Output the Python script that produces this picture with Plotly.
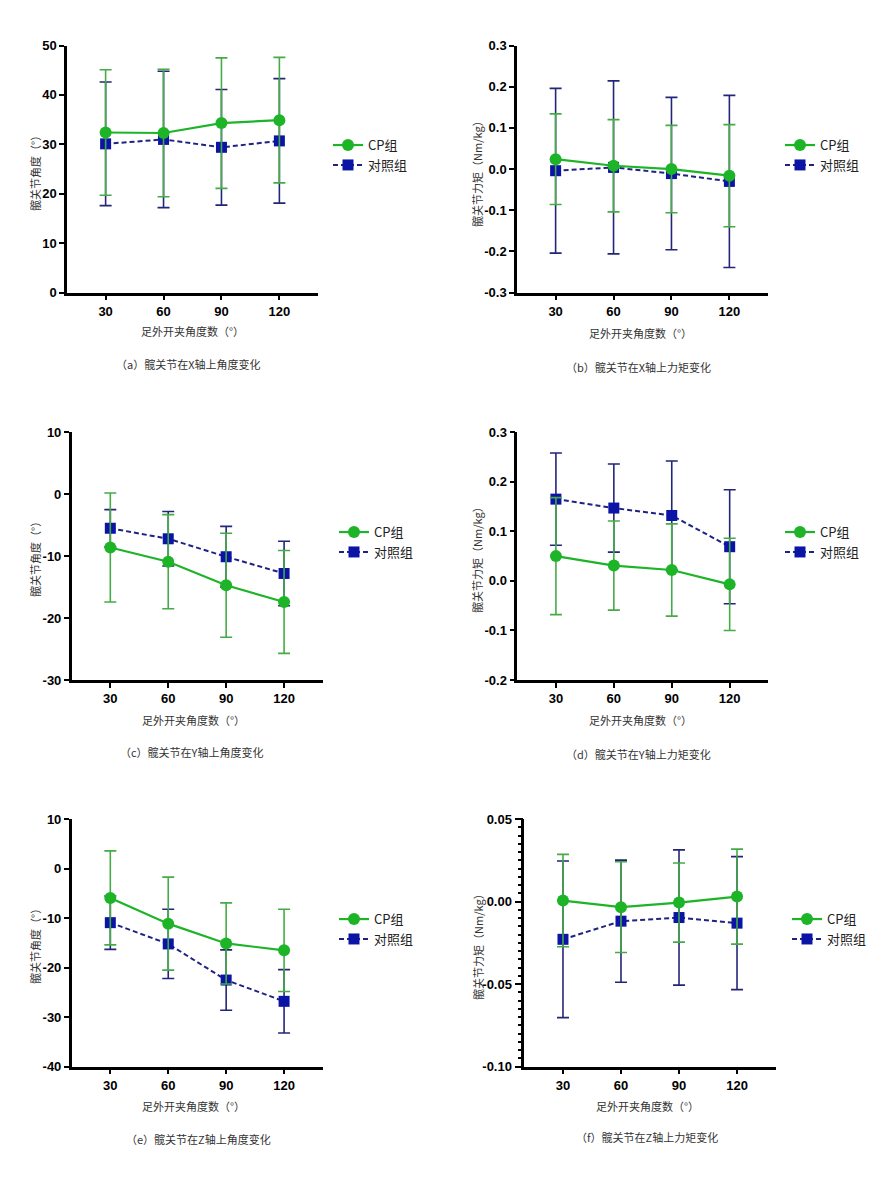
import plotly.graph_objects as go

# ---------------- data ----------------
angles = [30, 60, 90, 120]
x_ticklabels = ["30", "60", "90", "120"]
series_names = ["CP组", "对照组"]

a_cp = [32.4, 32.3, 34.3, 34.9]
a_cp_sd = [12.7, 12.9, 13.2, 12.7]
a_ct = [30.1, 31.0, 29.4, 30.7]
a_ct_sd = [12.5, 13.8, 11.7, 12.6]

b_cp = [0.024, 0.008, 0.000, -0.016]
b_cp_sd = [0.110, 0.112, 0.106, 0.124]
b_ct = [-0.004, 0.004, -0.011, -0.030]
b_ct_sd = [0.200, 0.210, 0.185, 0.209]

c_cp = [-8.6, -10.9, -14.7, -17.4]
c_cp_sd = [8.8, 7.6, 8.4, 8.3]
c_ct = [-5.5, -7.2, -10.1, -12.8]
c_ct_sd = [3.0, 4.4, 4.9, 5.2]

d_cp = [0.050, 0.031, 0.022, -0.007]
d_cp_sd = [0.118, 0.090, 0.093, 0.093]
d_ct = [0.165, 0.147, 0.132, 0.069]
d_ct_sd = [0.093, 0.089, 0.110, 0.115]

e_cp = [-5.9, -11.1, -15.1, -16.5]
e_cp_sd = [9.5, 9.4, 8.2, 8.3]
e_ct = [-10.9, -15.2, -22.5, -26.8]
e_ct_sd = [5.4, 7.0, 6.1, 6.4]

f_cp = [0.0007, -0.0033, -0.0005, 0.0031]
f_cp_sd = [0.028, 0.0275, 0.024, 0.0288]
f_ct = [-0.0228, -0.0118, -0.0096, -0.0130]
f_ct_sd = [0.0475, 0.037, 0.041, 0.0403]

a_yticks = [0, 10, 20, 30, 40, 50]
a_ylabels = ["0", "10", "20", "30", "40", "50"]
b_yticks = [-0.3, -0.2, -0.1, 0.0, 0.1, 0.2, 0.3]
b_ylabels = ["-0.3", "-0.2", "-0.1", "0.0", "0.1", "0.2", "0.3"]
c_yticks = [-30, -20, -10, 0, 10]
c_ylabels = ["-30", "-20", "-10", "0", "10"]
d_yticks = [-0.2, -0.1, 0.0, 0.1, 0.2, 0.3]
d_ylabels = ["-0.2", "-0.1", "0.0", "0.1", "0.2", "0.3"]
e_yticks = [-40, -30, -20, -10, 0, 10]
e_ylabels = ["-40", "-30", "-20", "-10", "0", "10"]
f_yticks = [-0.10, -0.05, 0.00, 0.05]
f_ylabels = ["-0.10", "-0.05", "0.00", "0.05"]

x_title = "足外开夹角度数（°）"
y_title_angle = "髋关节角度（°）"
y_title_moment = "髋关节力矩（Nm/kg）"
captions = ["（a）髋关节在X轴上角度变化", "（b）髋关节在X轴上力矩变化",
            "（c）髋关节在Y轴上角度变化", "（d）髋关节在Y轴上力矩变化",
            "（e）髋关节在Z轴上角度变化", "（f）髋关节在Z轴上力矩变化"]

# ---------------- layout geometry (pixels) ----------------
W, H = 892, 1179
panels = [
    dict(cp=a_cp, cpsd=a_cp_sd, ct=a_ct, ctsd=a_ct_sd, yt=a_yticks, yl=a_ylabels, yr=[0, 50],
         xd=(67, 318), yd=(39, 289.3), yti=y_title_angle, ytx=35, yty=166,
         xt=(192, 328), cap=(188, 362), leg=(328, 150), minor=None),
    dict(cp=b_cp, cpsd=b_cp_sd, ct=b_ct, ctsd=b_ct_sd, yt=b_yticks, yl=b_ylabels, yr=[-0.3, 0.3],
         xd=(517, 768), yd=(39, 289.3), yti=y_title_moment, ytx=477, yty=166,
         xt=(640, 330), cap=(638, 365), leg=(780, 150), minor=None),
    dict(cp=c_cp, cpsd=c_cp_sd, ct=c_ct, ctsd=c_ct_sd, yt=c_yticks, yl=c_ylabels, yr=[-30, 10],
         xd=(71.7, 322.7), yd=(430.7, 681.7), yti=y_title_angle, ytx=35, yty=557,
         xt=(193, 722), cap=(191, 755), leg=(334, 542), minor=None),
    dict(cp=d_cp, cpsd=d_cp_sd, ct=d_ct, ctsd=d_ct_sd, yt=d_yticks, yl=d_ylabels, yr=[-0.2, 0.3],
         xd=(517.3, 768.3), yd=(430.7, 681.7), yti=y_title_moment, ytx=477, yty=557,
         xt=(640, 722), cap=(638, 757), leg=(780, 542), minor=None),
    dict(cp=e_cp, cpsd=e_cp_sd, ct=e_ct, ctsd=e_ct_sd, yt=e_yticks, yl=e_ylabels, yr=[-40, 10],
         xd=(71.7, 322.7), yd=(822.7, 1073.3), yti=y_title_angle, ytx=35, yty=949,
         xt=(193, 1113), cap=(198, 1147), leg=(334, 934), minor=None),
    dict(cp=f_cp, cpsd=f_cp_sd, ct=f_ct, ctsd=f_ct_sd, yt=f_yticks, yl=f_ylabels, yr=[-0.10, 0.05],
         xd=(524.3, 775.7), yd=(822.7, 1073.3), yti=y_title_moment, ytx=478, yty=949,
         xt=(647, 1113), cap=(647, 1145), leg=(787, 934), minor=0.005),
]

GREEN = "rgb(30,180,40)"
GREEN_ERR = "rgb(70,170,70)"
BLUE = "rgb(12,20,165)"
BLUE_ERR = "rgb(35,38,120)"
BLUE_LINE = "rgb(30,35,130)"

CJK = "Noto Sans CJK SC"
TICKFONT = dict(family="Liberation Sans", size=13, color="black", weight="bold")

def px(x):
    return x / W

def py(y):
    return 1 - y / H

fig = go.Figure()
layout = dict(width=W, height=H, margin=dict(l=0, r=0, t=0, b=0),
              paper_bgcolor="white", plot_bgcolor="white", showlegend=True)
annotations = []

for i, p in enumerate(panels, start=1):
    xa = "x" if i == 1 else f"x{i}"
    ya = "y" if i == 1 else f"y{i}"
    leg = "legend" if i == 1 else f"legend{i}"

    fig.add_trace(go.Scatter(
        x=angles, y=p["ct"], name=series_names[1], mode="lines+markers",
        xaxis=xa, yaxis=ya, legend=leg, legendrank=2, cliponaxis=False,
        line=dict(color=BLUE_LINE, width=2, dash="5px,3px"),
        marker=dict(symbol="square", size=11, color=BLUE),
        error_y=dict(type="data", array=p["ctsd"], symmetric=True,
                     color=BLUE_ERR, thickness=1.6, width=6),
    ))
    fig.add_trace(go.Scatter(
        x=angles, y=p["cp"], name=series_names[0], mode="lines+markers",
        xaxis=xa, yaxis=ya, legend=leg, legendrank=1, cliponaxis=False,
        line=dict(color=GREEN, width=2.2),
        marker=dict(symbol="circle", size=12, color=GREEN),
        error_y=dict(type="data", array=p["cpsd"], symmetric=True,
                     color=GREEN_ERR, thickness=1.6, width=6),
    ))

    major_len = 7 if p["minor"] else 5
    xkey = "xaxis" if i == 1 else f"xaxis{i}"
    ykey = "yaxis" if i == 1 else f"yaxis{i}"
    layout[xkey] = dict(domain=[px(p["xd"][0]), px(p["xd"][1])], anchor=ya,
                        range=[10, 140], tickvals=angles, ticktext=x_ticklabels,
                        showline=True, linecolor="black", linewidth=2.5,
                        ticks="outside", ticklen=5, tickwidth=2, tickcolor="black",
                        showgrid=False, zeroline=False, tickfont=TICKFONT, fixedrange=True)
    layout[ykey] = dict(domain=[py(p["yd"][1]), py(p["yd"][0])], anchor=xa,
                        range=p["yr"], tickvals=p["yt"], ticktext=p["yl"],
                        showline=True, linecolor="black", linewidth=2.5,
                        ticks="outside", ticklen=major_len, tickwidth=2, tickcolor="black",
                        showgrid=False, zeroline=False, tickfont=TICKFONT, fixedrange=True)

    if p["minor"]:
        # invisible copy on an overlaid y-axis that carries only the minor tick marks
        fig.add_trace(go.Scatter(x=angles, y=p["cp"], xaxis=xa, yaxis="y7",
                                 showlegend=False, opacity=0, hoverinfo="skip"))
        layout["yaxis7"] = dict(overlaying=ya, anchor=xa, side="left", range=p["yr"],
                                tickmode="linear", tick0=0, dtick=p["minor"],
                                ticks="outside", ticklen=5, tickwidth=2, tickcolor="black",
                                showticklabels=False, showgrid=False, zeroline=False)

    layout[leg] = dict(x=px(p["leg"][0]), y=py(p["leg"][1]), xanchor="left", yanchor="middle",
                       xref="paper", yref="paper", bgcolor="rgba(0,0,0,0)",
                       font=dict(family=CJK, size=13, color="#222"),
                       itemwidth=30, tracegroupgap=0, traceorder="normal")

    annotations.append(dict(x=px(p["ytx"]), y=py(p["yty"]), xref="paper", yref="paper",
                            text=p["yti"], textangle=-90, showarrow=False,
                            xanchor="center", yanchor="middle",
                            font=dict(family=CJK, size=11, color="#333")))
    annotations.append(dict(x=px(p["xt"][0]), y=py(p["xt"][1]), xref="paper", yref="paper",
                            text=x_title, showarrow=False, xanchor="center", yanchor="middle",
                            font=dict(family=CJK, size=11, color="#333")))
    annotations.append(dict(x=px(p["cap"][0]), y=py(p["cap"][1]), xref="paper", yref="paper",
                            text=captions[i - 1], showarrow=False, xanchor="center", yanchor="middle",
                            font=dict(family=CJK, size=11, color="#333")))

layout["annotations"] = annotations
fig.update_layout(**layout)
fig.write_html("out.html")
